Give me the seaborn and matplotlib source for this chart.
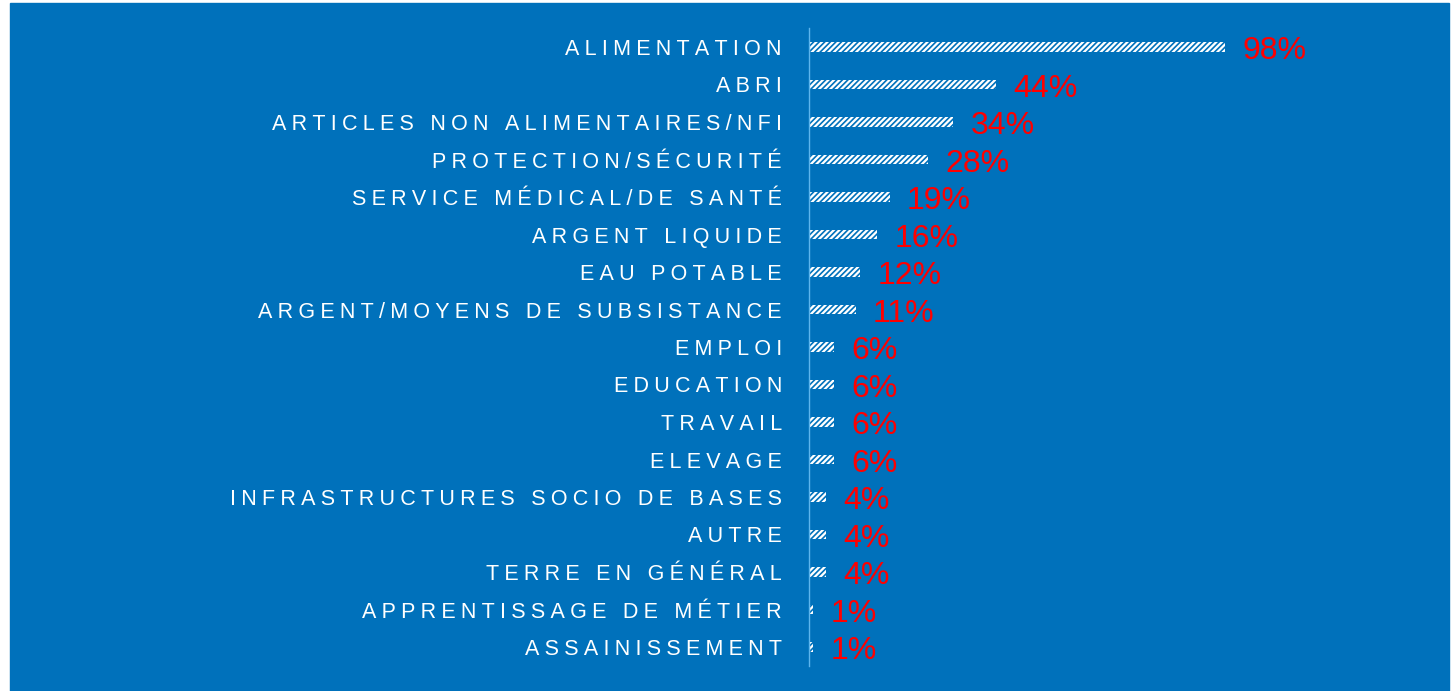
import matplotlib
matplotlib.use("Agg")
import matplotlib.pyplot as plt
import seaborn as sns
import pandas as pd
from matplotlib.patches import Rectangle

categories = [
    "ALIMENTATION", "ABRI", "ARTICLES NON ALIMENTAIRES/NFI", "PROTECTION/SÉCURITÉ",
    "SERVICE MÉDICAL/DE SANTÉ", "ARGENT LIQUIDE", "EAU POTABLE",
    "ARGENT/MOYENS DE SUBSISTANCE", "EMPLOI", "EDUCATION", "TRAVAIL", "ELEVAGE",
    "INFRASTRUCTURES SOCIO DE BASES", "AUTRE", "TERRE EN GÉNÉRAL",
    "APPRENTISSAGE DE MÉTIER", "ASSAINISSEMENT",
]
values = [98, 44, 34, 28, 19, 16, 12, 11, 6, 6, 6, 6, 4, 4, 4, 1, 1]

BLUE = "#0071BB"
plt.rcParams["hatch.color"] = BLUE
plt.rcParams["hatch.linewidth"] = 1.2

df = pd.DataFrame({"cat": categories, "val": values})

fig = plt.figure(figsize=(14.56, 6.91), dpi=100)
fig.patch.set_facecolor("white")
fig.patches.append(Rectangle((10 / 1456, 0), 1439 / 1456, 688 / 691,
                             transform=fig.transFigure, color=BLUE, zorder=-5))
ax = fig.add_axes([809 / 1456, 25.25 / 691, 640 / 1456, 637.5 / 691])
ax.set_facecolor("none")

sns.barplot(data=df, x="val", y="cat", orient="h", color="white",
            width=0.26, saturation=1, ax=ax)
for p in ax.patches:
    p.set_hatch("//////")
    p.set_edgecolor(BLUE)
    p.set_linewidth(0)

# value labels, red, just right of each bar
for i, v in enumerate(values):
    ax.annotate(f"{v}%", xy=(v, i), xytext=(12.5, -8.9), textcoords="offset points",
                color="#FF0000", fontsize=23, va="baseline", ha="left",
                family="Liberation Sans")

ax.set_xlim(0, 150.8)
ax.set_ylim(16.5, -0.5)
ax.set_xlabel("")
ax.set_ylabel("")
ax.set_xticks([])
# wide letter spacing like the original
spaced = ["\u200a\u200a\u200a".join(c) for c in categories]
ax.set_yticks(range(len(categories)))
ax.set_yticklabels(spaced, color="white", fontsize=15.5, family="Liberation Sans")
ax.tick_params(axis="y", length=0, pad=19.5)
for s in ["top", "right", "bottom"]:
    ax.spines[s].set_visible(False)
ax.spines["left"].set_color("#5DB5EE")
ax.spines["left"].set_linewidth(1)

fig.savefig("out.png", dpi=100, facecolor=fig.get_facecolor())
